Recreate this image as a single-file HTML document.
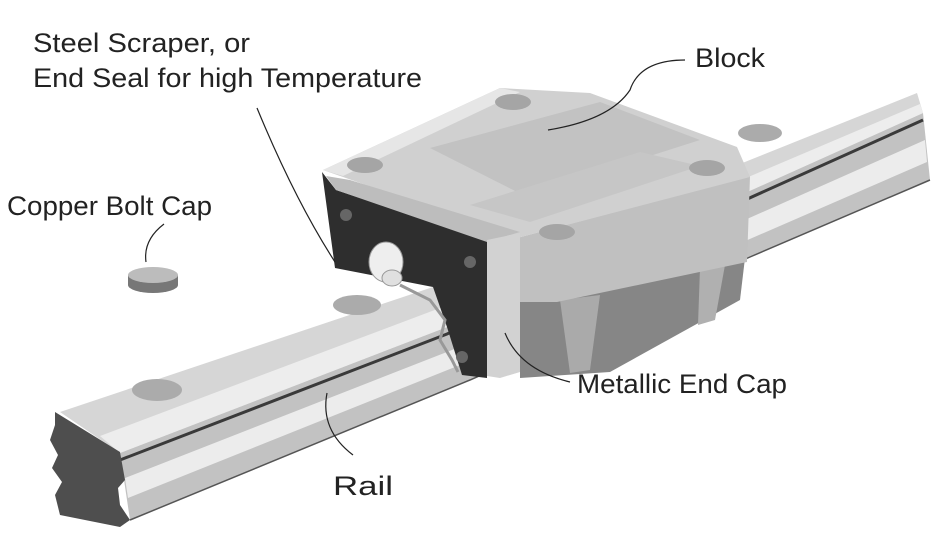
<!DOCTYPE html>
<html><head><meta charset="utf-8"><style>
html,body{margin:0;padding:0;background:#fff;}
svg{display:block}
text{font-family:"Liberation Sans",sans-serif;font-size:27px;fill:#222;}
</style></head><body>
<svg width="950" height="536" viewBox="0 0 950 536" xmlns="http://www.w3.org/2000/svg">
<rect width="950" height="536" fill="#fff"/>
<!-- rail side face -->
<polygon points="120,453 447,327 923,113 930,180 750,257 470,380 130,520" fill="#c2c2c2"/>
<polygon points="125,478 452,350 925,140 927,162 460,365 128,498" fill="#ececec"/>
<polyline points="120,460 447,334 923,120" fill="none" stroke="#3a3a3a" stroke-width="3"/>
<polyline points="130,520 470,380 750,257 930,180" fill="none" stroke="#555" stroke-width="1.5"/>
<!-- rail top -->
<polygon points="60,412 433,287 917,93 923,113 447,327 120,453" fill="#d6d6d6"/>
<polygon points="100,436 440,308 920,104 923,113 447,327 120,453" fill="#ededed"/>
<!-- rail end face -->
<polygon points="55,412 120,452 125,480 118,488 120,505 130,520 120,527 60,515 55,495 62,482 52,468 58,455 50,440 55,425" fill="#4e4e4e"/>
<!-- holes -->
<ellipse cx="157" cy="390" rx="25" ry="11" fill="#ababab"/>
<ellipse cx="357" cy="305" rx="24" ry="10" fill="#ababab"/>
<ellipse cx="760" cy="133" rx="22" ry="9" fill="#ababab"/>
<!-- block lower body -->
<polygon points="520,298 745,258 740,300 610,372 520,378" fill="#868686"/>
<polygon points="560,300 600,295 590,370 570,373" fill="#aaaaaa"/>
<polygon points="700,268 725,265 715,320 698,325" fill="#b0b0b0"/>
<!-- flange side face -->
<polygon points="517,238 750,176 747,262 557,302 520,302" fill="#c0c0c0"/>
<!-- block top -->
<polygon points="323,170 500,88 590,93 737,147 750,177 517,238" fill="#d0d0d0"/>
<polygon points="430,148 600,102 700,140 525,196" fill="#c2c2c2"/>
<polygon points="470,205 640,152 700,166 530,222" fill="#c6c6c6"/>
<polygon points="323,170 500,88 520,92 343,176" fill="#e6e6e6"/>
<ellipse cx="513" cy="102" rx="18" ry="8" fill="#a5a5a5"/>
<ellipse cx="365" cy="165" rx="18" ry="8" fill="#a5a5a5"/>
<ellipse cx="707" cy="168" rx="18" ry="8" fill="#a5a5a5"/>
<ellipse cx="557" cy="232" rx="18" ry="8" fill="#a5a5a5"/>
<!-- dark seal -->
<polygon points="322,172 336,190 487,240 487,378 462,375 447,327 433,287 335,268" fill="#2e2e2e"/>
<!-- end cap -->
<polygon points="326,176 350,180 520,232 487,242 336,190" fill="#bdbdbd"/>
<polygon points="487,240 520,233 520,372 500,378 487,376" fill="#d2d2d2"/>
<!-- bolts on seal -->
<circle cx="346" cy="215" r="6" fill="#666"/>
<circle cx="470" cy="262" r="6" fill="#666"/>
<circle cx="462" cy="357" r="6" fill="#666"/>
<!-- grease nipple -->
<ellipse cx="386" cy="262" rx="17" ry="20" fill="#eeeeee" stroke="#999"/>
<ellipse cx="392" cy="278" rx="10" ry="8" fill="#e0e0e0" stroke="#999"/>
<polyline points="400,285 430,300 445,320 440,340 452,360 458,372" fill="none" stroke="#999" stroke-width="3"/>
<!-- copper bolt cap -->
<path d="M128,275 L128,285 A25,8 0 0 0 178,285 L178,275 Z" fill="#777"/>
<ellipse cx="153" cy="275" rx="25" ry="8" fill="#bcbcbc"/>
<!-- leaders -->
<g fill="none" stroke="#222" stroke-width="1.2">
<path d="M257,108 Q295,200 335,262"/>
<path d="M685,60 Q640,60 630,90 Q610,120 548,130"/>
<path d="M164,224 Q143,240 146,262"/>
<path d="M505,333 Q520,370 570,382"/>
<path d="M327,393 Q320,430 353,455"/>
</g>
<text x="33" y="52" textLength="217" lengthAdjust="spacingAndGlyphs">Steel Scraper, or</text>
<text x="33" y="87" textLength="389" lengthAdjust="spacingAndGlyphs">End Seal for high Temperature</text>
<text x="695" y="67" textLength="70" lengthAdjust="spacingAndGlyphs">Block</text>
<text x="7" y="215" textLength="205" lengthAdjust="spacingAndGlyphs">Copper Bolt Cap</text>
<text x="577" y="393" textLength="210" lengthAdjust="spacingAndGlyphs">Metallic End Cap</text>
<text x="333" y="495" textLength="60" lengthAdjust="spacingAndGlyphs">Rail</text>
</svg>
</body></html>
